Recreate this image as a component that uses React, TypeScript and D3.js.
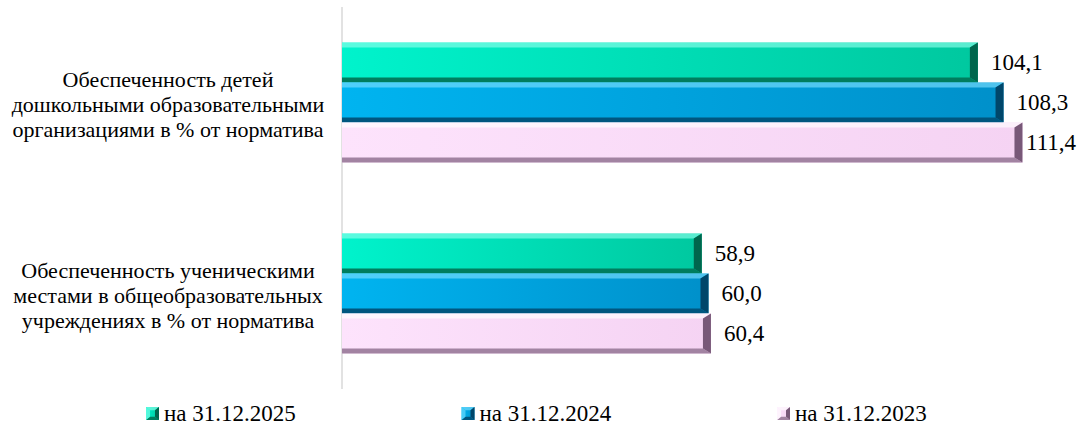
import React from "react";
import * as d3 from "d3";

const categoryLines: string[][] = [
  ["Обеспеченность детей", "дошкольными образовательными", "организациями в % от норматива"],
  ["Обеспеченность ученическими", "местами в общеобразовательных", "учреждениях в % от норматива"],
];
const categories = ["preschool", "school"];
const seriesNames = ["на 31.12.2025", "на 31.12.2024", "на 31.12.2023"];
const values2025 = [104.1, 58.9];
const values2024 = [108.3, 60.0];
const values2023 = [111.4, 60.4];
const seriesValues = [values2025, values2024, values2023];

const W = 1089;
const H = 430;
const FONT = "Liberation Serif, Tinos, DejaVu Serif, serif";

const palettes = [
  { hl: "#8affea", left: "#00f3cc", right: "#00c89f", bottom: "#007d5e", end: "#00664d" },
  { hl: "#7adfff", left: "#00b4f0", right: "#0090ca", bottom: "#00567f", end: "#00466a" },
  { hl: "#ffffff", left: "#fde3fc", right: "#f5d3f3", bottom: "#a283a2", end: "#785878" },
];

const fmt = (v: number) => d3.format(".1f")(v).replace(".", ",");

function Bevel({ x0, y, w, h, i, b = 6, id }: { x0: number; y: number; w: number; h: number; i: number; b?: number; id: string }) {
  const p = palettes[i];
  const x1 = x0 + w;
  const bt = Math.min(5, h / 4);
  const br = Math.min(b, w / 2);
  const lg = id === "lg";
  return (
    <g>
      <rect x={x0} y={y} width={w} height={h} fill={`url(#${id}${i})`} />
      <polygon points={`${x0},${y} ${x1},${y} ${x1 - br},${y + bt} ${x0 + (lg ? br : 0)},${y + bt}`} fill={p.hl} opacity={0.65} />
      <polygon points={`${x0},${y + h} ${x1},${y + h} ${x1 - br},${y + h - bt} ${x0 + (lg ? br : 0)},${y + h - bt}`} fill={p.bottom} />
      <polygon points={`${x1},${y} ${x1},${y + h} ${x1 - br},${y + h - bt} ${x1 - br},${y + bt}`} fill={p.end} />
      {lg && (
        <polygon points={`${x0},${y} ${x0},${y + h} ${x0 + br},${y + h - bt} ${x0 + br},${y + bt}`} fill={p.hl} opacity={0.6} />
      )}
    </g>
  );
}

export default function App() {
  const x = d3.scaleLinear().domain([0, 120]).range([342, 1075]);
  const y = d3.scaleBand<string>().domain(categories).range([7, 389]).paddingInner(0.372).paddingOuter(0.186);
  const ys = d3.scaleBand<string>().domain(seriesNames).range([0, y.bandwidth()]);
  const legendX = d3.scaleBand<string>().domain(seriesNames).range([146, 146 + 3 * 315.5]);
  const labelMax = W - 63;

  return (
    <svg width={W} height={H} style={{ display: "block", position: "absolute", left: 0, top: 0, fontFamily: FONT }}>
      <defs>
        {palettes.map((p, i) => (
          <linearGradient key={i} id={`bar${i}`} x1="0" x2="1" y1="0" y2="0">
            <stop offset="0" stopColor={p.left} />
            <stop offset="1" stopColor={p.right} />
          </linearGradient>
        ))}
        {palettes.map((p, i) => (
          <linearGradient key={"l" + i} id={`lg${i}`} x1="0" x2="1" y1="0" y2="0">
            <stop offset="0" stopColor={p.left} />
            <stop offset="1" stopColor={p.right} />
          </linearGradient>
        ))}
      </defs>
      <rect width={W} height={H} fill="#ffffff" />
      <line x1={342} x2={342} y1={7} y2={389} stroke="#d9d9d9" strokeWidth={1.5} />

      {categories.map((c, ci) => {
        const gy = y(c)!;
        const cy = gy + y.bandwidth() / 2;
        const lines = categoryLines[ci];
        return (
          <g key={c}>
            <text x={168} y={cy} style={{ fontFamily: FONT }} fontSize={22} fill="#000" textAnchor="middle">
              {lines.map((l, li) => (
                <tspan key={li} x={168} y={cy + 2 + (li - (lines.length - 1) / 2) * 25} dominantBaseline="central">
                  {l}
                </tspan>
              ))}
            </text>
            {seriesNames.map((s, si) => {
              const v = seriesValues[si][ci];
              const by = gy + ys(s)!;
              const bh = ys.bandwidth();
              const x1 = x(v);
              return (
                <g key={s}>
                  <Bevel x0={x(0)} y={by} w={x1 - x(0)} h={bh} i={si} b={8} id="bar" />
                  <text
                    x={Math.min(x1 + 13, labelMax)}
                    y={by + bh / 2}
                    style={{ fontFamily: FONT }}
                    fontSize={23}
                    fill="#000"
                    dominantBaseline="central"
                  >
                    {fmt(v)}
                  </text>
                </g>
              );
            })}
          </g>
        );
      })}

      {seriesNames.map((s, si) => {
        const lx = legendX(s)!;
        return (
          <g key={s}>
            <Bevel x0={lx} y={407} w={13} h={13} i={si} b={4} id="lg" />
            <text x={lx + 18} y={413.5} style={{ fontFamily: FONT }} fontSize={23} fill="#000" dominantBaseline="central">
              {s}
            </text>
          </g>
        );
      })}
    </svg>
  );
}
